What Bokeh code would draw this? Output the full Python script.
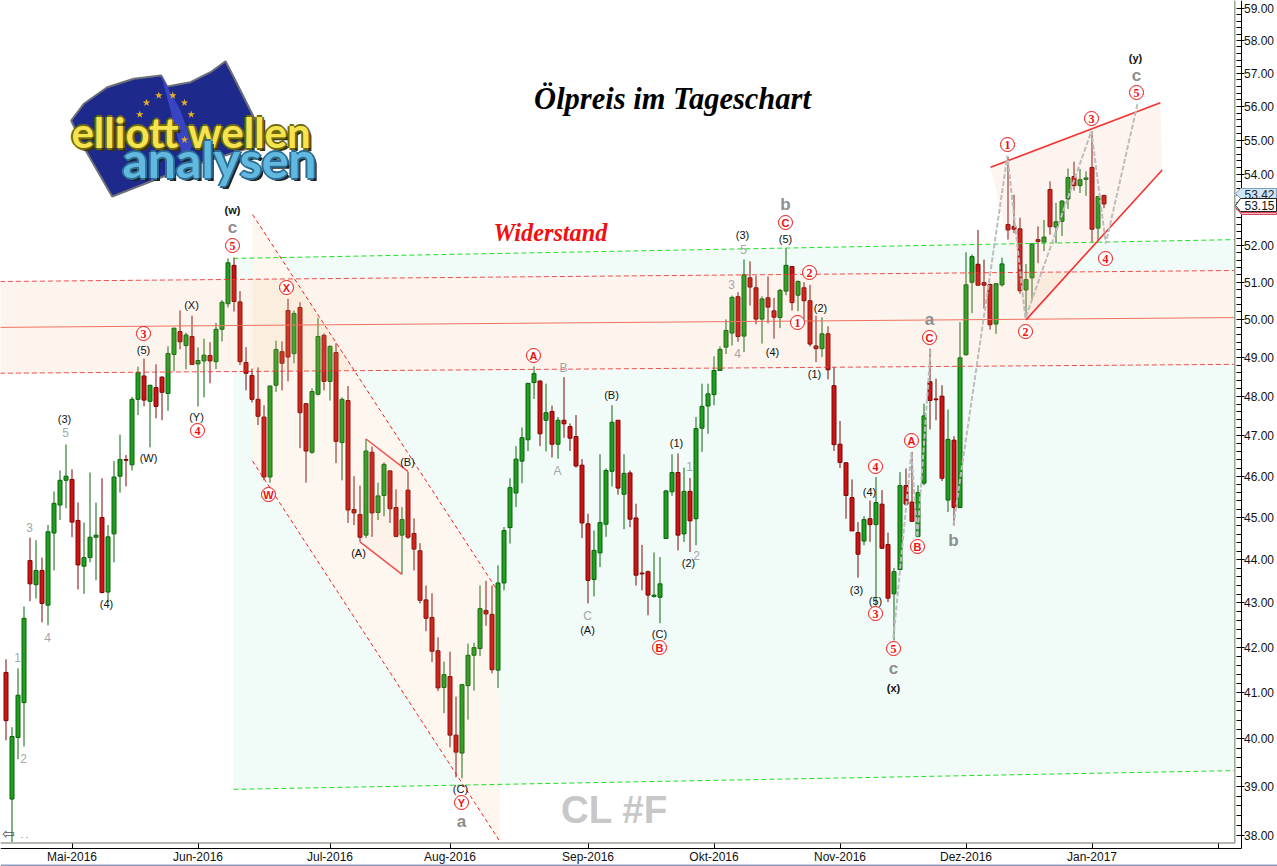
from math import exp
from bokeh.plotting import figure
from bokeh.embed import file_html
from bokeh.resources import INLINE
from bokeh.core.properties import value
from bokeh.models import Range1d, FixedTicker, PrintfTickFormatter, ColumnDataSource

# ---------- data ----------
directions = ("RGGGRGRGGG" "GRRGGGRGGG" "RGGRGRRGGR" "GRGGRGGGRR" "RRRRGGRRGR" "RGGRGRGRRR"
              "GRGGRRGRRR" "RRRGRRGGGG" "RRGGGGGGGR" "GRGRRRRRGG" "GGRGRRRRGG" "GGRGRGGGGG"
              "GGRGRRGRRG" "GRGRRRGRRR" "RRRGRGRRGG" "RRGGRRRGRG" "GGRRRGGRRR" "GGRGRGGGRG" "GRGR")
highs = [41.73,40.25,41.53,42.92,44.52,44.46,44.05,44.82,45.63,46.14,
46.78,46.17,45.36,44.88,46.09,45.36,45.95,44.82,46.37,47.03,
46.52,47.98,48.76,48.97,48.29,48.82,48.51,49.29,49.77,50.24,
49.65,50.10,49.26,49.49,49.40,49.91,50.52,51.65,51.68,50.76,
49.27,48.71,48.74,47.77,48.27,49.44,49.42,50.55,50.24,50.46,
47.82,48.20,50.04,49.63,49.32,49.37,47.97,48.26,46.00,45.77,
46.92,46.73,45.84,46.34,46.14,45.68,45.25,46.11,44.98,44.39,
43.40,43.22,42.22,41.68,41.90,40.91,41.19,42.08,42.10,43.40,
43.51,43.40,43.87,44.77,45.95,46.74,47.21,48.34,48.77,48.40,
48.32,47.76,47.47,48.49,47.31,47.52,46.42,45.09,44.69,46.54,
46.19,47.77,47.39,46.54,46.14,45.33,44.35,43.75,44.17,44.06,
45.66,46.54,46.56,46.21,45.96,47.47,48.32,48.32,49.03,49.29,
50.00,50.64,50.73,51.62,51.57,51.18,50.62,51.16,50.58,50.82,
51.94,51.43,51.05,51.00,50.93,50.10,50.06,49.82,48.75,47.37,
46.34,45.92,44.89,45.03,45.41,45.98,45.66,44.64,43.81,46.10,
46.19,46.60,45.78,47.81,49.23,48.45,48.28,47.66,46.99,49.93,
51.82,51.76,52.44,51.62,50.96,50.97,51.67,54.52,53.43,52.78,
51.50,52.07,52.54,52.72,53.81,53.20,53.28,54.18,54.38,54.17,
54.10,55.27,53.38,53.43]
body_tops = [41.44,40.05,40.94,42.65,43.98,43.75,43.75,44.66,45.34,45.90,
46.00,45.92,44.93,44.05,44.53,44.58,45.00,44.54,45.98,46.41,
46.41,47.92,48.61,48.52,48.28,48.22,48.49,49.10,49.77,49.68,
49.59,49.55,48.92,49.06,49.05,49.74,50.46,51.53,51.46,50.47,
48.87,48.53,47.92,47.47,48.26,49.21,49.15,50.24,50.16,50.32,
47.81,48.12,49.55,49.58,49.29,49.13,47.92,47.89,45.19,45.07,
46.62,46.59,45.52,46.29,46.13,45.24,44.95,45.66,44.62,44.21,
43.07,42.67,41.92,41.39,41.35,40.08,41.17,41.82,41.99,42.87,
42.83,42.74,43.46,44.69,45.72,46.42,46.95,48.33,48.58,48.39,
47.58,47.61,47.39,47.39,47.23,46.98,46.27,44.85,44.22,44.88,
46.14,47.34,47.39,46.07,46.08,44.99,43.69,43.72,43.18,43.44,
45.64,46.09,46.09,45.63,45.63,47.18,47.74,48.06,48.66,49.21,
49.71,50.59,50.61,51.20,51.12,50.85,50.55,50.58,50.23,50.78,
51.46,51.43,51.02,50.85,50.50,49.30,49.62,49.62,48.27,46.79,
46.33,45.48,44.64,44.95,44.97,45.36,45.32,44.36,43.72,45.77,
45.77,45.37,45.60,47.50,48.37,47.93,48.00,46.91,46.89,48.99,
50.93,51.70,51.49,50.99,50.94,50.96,51.50,52.59,52.54,52.47,
51.07,52.05,52.17,52.24,53.58,52.67,53.25,53.92,53.95,53.86,
53.91,54.21,53.38,53.41]
body_bottoms = [40.39,38.74,40.03,40.78,43.44,43.42,42.99,42.95,44.63,45.30,
45.90,44.89,43.88,43.85,44.05,44.53,43.24,43.25,44.61,46.00,
46.39,46.28,47.92,47.90,47.87,47.74,48.10,48.07,49.08,49.41,
49.31,48.82,48.83,48.91,48.91,48.89,49.74,50.42,50.48,48.89,
48.59,47.92,47.49,45.98,45.98,48.28,48.85,49.01,49.10,47.58,
46.62,46.59,48.05,48.38,48.38,46.86,46.83,45.18,45.11,44.53,
44.58,45.11,45.12,45.53,45.21,44.55,44.58,44.53,44.25,43.06,
42.65,41.91,41.10,41.11,40.08,39.72,39.70,41.15,41.82,41.97,
42.75,41.50,41.49,43.46,44.76,45.59,46.37,46.90,48.35,47.05,
47.39,46.79,46.79,47.30,46.94,46.25,44.87,43.52,43.54,44.16,
44.84,46.12,45.71,45.56,44.96,43.64,43.67,43.18,43.15,43.13,
44.50,45.62,44.58,44.61,44.92,44.97,47.19,47.75,48.04,48.66,
49.27,49.64,49.55,49.56,50.87,50.01,50.01,50.33,50.06,50.05,
50.76,50.45,50.65,50.50,49.35,49.23,49.23,48.68,46.78,46.34,
45.53,44.68,44.13,44.44,44.83,44.83,44.27,43.11,43.21,43.77,
45.32,44.91,44.55,45.83,47.89,47.91,45.95,45.42,45.24,45.24,
49.07,51.00,50.92,50.92,49.86,49.88,50.93,52.44,52.46,50.77,
50.79,51.12,52.12,52.10,52.53,52.52,52.68,53.31,53.69,53.69,
53.87,52.46,52.49,53.17]
lows = [39.97,37.86,39.57,39.84,43.04,43.10,42.56,42.49,43.75,44.94,
45.22,44.53,43.31,43.21,43.94,43.52,43.22,43.02,43.94,45.60,
45.75,46.14,47.52,47.74,46.71,47.44,47.39,47.63,48.64,49.21,
48.69,48.82,47.74,47.97,48.33,48.70,49.42,50.32,50.21,48.80,
48.15,47.84,47.27,45.90,45.84,48.11,48.15,48.38,48.85,46.69,
45.84,46.55,48.02,48.15,47.89,46.32,45.90,44.87,44.82,44.42,
44.51,44.54,44.94,45.03,44.87,44.53,43.66,44.49,43.75,42.99,
42.36,41.67,41.03,40.55,39.82,39.19,39.17,40.41,41.04,41.80,
42.48,41.42,41.10,43.29,44.38,45.25,45.83,46.62,47.93,46.74,
46.61,46.46,46.43,46.95,46.62,46.21,44.51,42.99,43.15,43.83,
44.54,45.75,45.55,44.72,44.77,43.40,43.29,42.72,43.12,42.54,
44.50,45.52,44.22,44.42,44.18,44.34,46.60,47.05,47.77,48.66,
49.09,49.31,49.41,49.14,50.37,49.87,49.36,49.90,49.49,49.77,
50.65,50.24,50.22,50.00,49.29,48.88,49.01,48.43,46.62,46.20,
44.97,44.68,43.58,44.34,44.42,42.94,44.25,43.02,42.15,43.77,
45.29,44.89,44.53,45.78,47.16,47.39,45.88,45.13,44.81,45.24,
49.05,50.17,50.91,50.29,49.73,49.62,50.88,52.17,52.35,50.69,
50.06,50.50,51.52,51.85,52.31,52.07,52.27,53.03,53.55,53.48,
53.40,52.10,52.15,53.05]
bars = list(range(len(highs)))

price_ticks = list(range(38, 60))
month_bars = [11, 32, 54, 74, 97, 118, 139, 160, 181, 202]
month_labels = ["Mai-2016", "Jun-2016", "Jul-2016", "Aug-2016", "Sep-2016", "Okt-2016", "Nov-2016", "Dez-2016", "Jan-2017", ""]

band_x = [-1, 204.8]
band_top = [51.02, 51.32]
band_mid = [49.79, 50.05]
band_bottom = [48.59, 48.82]
green_x = [37.9, 204.8]
green_top = [51.65, 52.17]
green_bottom = [38.94, 39.33]
green_at_band_top = [51.08, 51.32]
green_at_band_bottom = [48.63, 48.82]
chan_upper_x = [41.1, 81.9]
chan_upper_y = [52.87, 43.29]
chan_lower_x = [41.1, 82.3]
chan_lower_y = [46.37, 37.88]
flag_upper_x = [60.0, 67.0]
flag_upper_y = [46.92, 46.12]
flag_lower_x = [59.0, 66.0]
flag_lower_y = [44.42, 43.66]
wedge_upper_x = [164.1, 192.4]
wedge_upper_y = [54.22, 56.11]
wedge_lower_x = [170.0, 192.7]
wedge_lower_y = [49.99, 54.14]
zig1_x = [147.9, 150.9, 151.9, 154.1]
zig1_y = [42.20, 46.59, 44.53, 49.21]
zig2_x = [157.9, 166.9, 169.9, 180.9, 183.3, 188.6]
zig2_y = [44.81, 54.55, 50.03, 55.27, 52.06, 56.09]
last_quotes = ["53.42", "53.15"]

# ---------- layout ----------
W, H = 1277, 866
AXIS_X, AXIS_Y = 1240.5, 847.5
def bx(px): return (px - 5.5) / 6.0
def py(y): return 58.0 * exp(-(y - 40.0) / 1879.6)

p = figure(width=W, height=H, output_backend="svg", toolbar_location=None,
           y_axis_type="log", y_axis_location="right",
           x_range=Range1d(bx(0), bx(W)), y_range=Range1d(py(H), py(0)),
           min_border=0, background_fill_color="white", border_fill_color="white")
p.outline_line_color = None
p.grid.visible = False

ax = p.xaxis[0]
ax.fixed_location = py(AXIS_Y)
ax.bounds = (bx(0), bx(AXIS_X))
ax.ticker = FixedTicker(ticks=month_bars)
ax.major_label_overrides = dict(zip(month_bars, month_labels))
ax.major_tick_in, ax.major_tick_out = 5, 0
ax.minor_tick_line_color = None
ax.axis_line_color = "black"
ax.major_tick_line_color = "black"
ax.major_label_text_font = "Liberation Sans"
ax.major_label_text_font_size = "12px"
ax.major_label_text_color = "#111111"
ax.major_label_standoff = 2

ay = p.yaxis[0]
ay.fixed_location = bx(AXIS_X)
ay.bounds = (py(AXIS_Y), py(0))
minor = [t + f / 10 for t in price_ticks[:-1] for f in (2, 4, 6, 8)]
ay.ticker = FixedTicker(ticks=price_ticks, minor_ticks=minor)
ay.formatter = PrintfTickFormatter(format="%.2f")
ay.major_tick_in, ay.major_tick_out = 5, 3
ay.minor_tick_in, ay.minor_tick_out = 5, 0
ay.axis_line_color = ay.major_tick_line_color = ay.minor_tick_line_color = "black"
ay.major_label_text_font = "Liberation Sans"
ay.major_label_text_font_size = "12px"
ay.major_label_text_color = "#111111"
ay.major_label_standoff = 0

# ---------- zones under the candles ----------
GREEN_BG = "#F1FCF9"
p.patch(green_x + green_x[::-1], green_top + green_at_band_top[::-1], fill_color=GREEN_BG, line_color=None)
p.patch(green_x + green_x[::-1], green_at_band_bottom + green_bottom[::-1], fill_color=GREEN_BG, line_color=None)
p.patch(chan_upper_x + chan_lower_x[::-1], chan_upper_y + chan_lower_y[::-1], fill_color="white", line_color=None)
p.patch(wedge_upper_x + wedge_lower_x[::-1], wedge_upper_y + wedge_lower_y[::-1], fill_color="white", line_color=None)

# ---------- candles ----------
def idx(d): return [i for i, c in enumerate(directions) if c == d]
for d, fill, line in (("G", "#1F9E1F", "#0A640A"), ("R", "#CC1414", "#7E0606")):
    ii = idx(d)
    src = ColumnDataSource(dict(x=[bars[i] for i in ii], h=[highs[i] for i in ii], l=[lows[i] for i in ii],
                                t=[body_tops[i] for i in ii], b=[body_bottoms[i] for i in ii]))
    p.segment("x", "h", "x", "l", source=src, line_color=line, line_width=1)
    p.vbar(x="x", width=4 / 6, top="t", bottom="b", source=src, fill_color=fill, line_color=line, line_width=1)

# ---------- tints over the candles ----------
p.patch(band_x + band_x[::-1], band_top + band_bottom[::-1], fill_color="#F0AA6E", fill_alpha=0.12, line_color=None)
p.patch(chan_upper_x + chan_lower_x[::-1], chan_upper_y + chan_lower_y[::-1], fill_color="#F0B870", fill_alpha=0.11, line_color=None)
p.patch(flag_upper_x + flag_lower_x[::-1], flag_upper_y + flag_lower_y[::-1], fill_color="#F0A090", fill_alpha=0.05, line_color=None)
p.patch(wedge_upper_x + wedge_lower_x[::-1], wedge_upper_y + wedge_lower_y[::-1], fill_color="#F0A878", fill_alpha=0.12, line_color=None)

# ---------- lines ----------
p.line(green_x, green_top, line_color="#22E022", line_dash="5 3", line_width=1)
p.line(green_x, green_bottom, line_color="#22E022", line_dash="5 3", line_width=1)
p.line(band_x, band_top, line_color="#F03030", line_dash="5 3", line_width=1, line_alpha=0.85)
p.line(band_x, band_bottom, line_color="#F03030", line_dash="5 3", line_width=1, line_alpha=0.85)
p.line(band_x, band_mid, line_color="#F07060", line_width=1)
p.line(chan_upper_x, chan_upper_y, line_color="#F02020", line_dash="4 3", line_width=1)
p.line(chan_lower_x, chan_lower_y, line_color="#F02020", line_dash="4 3", line_width=1)
for xs, ys in ((flag_upper_x, flag_upper_y), (flag_lower_x, flag_lower_y)):
    p.line(xs, ys, line_color="#F05050", line_width=1.5)
for xs, ys in ((wedge_upper_x, wedge_upper_y), (wedge_lower_x, wedge_lower_y)):
    p.line(xs, ys, line_color="#F83030", line_width=1.6)
for xs, ys in ((zig1_x, zig1_y), (zig2_x, zig2_y)):
    p.line(xs, ys, line_color="#BDBDBD", line_dash="5 2", line_width=2)

# inner frame of the chart window
p.line([bx(0), bx(1234.3), bx(1234.3)], [py(842.4), py(842.4), py(0)], line_color="#9AA294", line_width=1.5)
# rule at the foot of the page
p.quad(left=[bx(0)], right=[bx(W)], top=[py(864)], bottom=[py(865.5)], fill_color="#8E9AB8", line_color=None)

# ---------- texts ----------
def texts(items, color, font, size, style="normal", level="glyph"):
    src = ColumnDataSource(dict(x=[bx(i[1]) for i in items], y=[py(i[2]) for i in items], t=[i[0] for i in items]))
    p.text("x", "y", text="t", source=src, text_color=color, text_font=value(font), text_font_size=value(size),
           text_font_style=style, text_align="center", text_baseline="middle", level=level)

black = [("(3)",64,418),("(5)",143,349),("(X)",191,304),("(W)",148,457),("(Y)",196,416),("(4)",106,603),
         ("(A)",358,552),("(B)",407,461),("(C)",460,788),("(B)",611,394),("(A)",587,629),("(C)",659,633),
         ("(1)",676,442),("(2)",688,562),("(3)",742,234),("(5)",785,238),("(4)",772,351),("(2)",820,307),
         ("(1)",814,373),("(3)",856,589),("(4)",869,491),("(5)",875,600)]
texts(black, "#111111", "Liberation Sans", "11px")
texts([("(w)",232,209),("(x)",893,687),("(y)",1135,57)], "#111111", "Liberation Sans", "11px", "bold")
grey = [("5",65,432),("3",29,527),("1",17,657),("2",23,758),("4",47,637),("A",557,470),("B",563,367),("C",587,615),
        ("1",689,466),("2",696,555),("3",731,284),("4",737,353),("5",743,249)]
texts(grey, "#A6A6A6", "Liberation Sans", "12px")
texts([("c",232,227),("a",461,821),("a",929,319),("b",953,540),("c",893,668),("b",785,204),("c",1136,75)],
      "#8E8E8E", "Liberation Sans", "17px", "bold")

circ_digits = [("3",143,333),("4",197,430),("5",232,245),("2",809,272),("1",797,322),("4",875,466),("3",875,613),
               ("5",893,648),("1",1007,144),("2",1025,331),("3",1091,118),("4",1105,258),("5",1136,92)]
circ_letters = [("X",286,287),("W",268,494),("Y",461,802),("A",533,355),("B",659,647),("C",785,222),
                ("A",911,440),("B",917,546),("C",929,337)]
all_c = circ_digits + circ_letters
p.scatter([bx(c[1]) for c in all_c], [py(c[2]) for c in all_c], marker="circle", size=14,
          fill_color="white", line_color="#F01010", line_width=1)
texts(circ_digits, "#F01010", "Liberation Serif", "12px", "bold")
texts(circ_letters, "#F01010", "Liberation Sans", "11px", "bold")

texts([("Ölpreis im Tageschart",672,98)], "black", "Liberation Serif", "30.5px", "bold italic")
texts([("Widerstand",550,232)], "#F01010", "Liberation Serif", "24.3px", "bold italic")
texts([("CL #F",614,809)], "#C8C8C8", "Liberation Sans", "38.5px", "bold")
texts([("⇦",8,833)], "#555555", "DejaVu Sans", "15px")
texts([(". .",24,834)], "#666666", "Liberation Sans", "9px")

# ---------- logo ----------
flag_px = [(70.7,120),(83.3,103.3),(106.7,86.7),(133.3,78.3),(160.7,75),(166.7,86),(190,81.7),(210,71.7),(225,60.7),
           (233.3,76.7),(253.3,116.7),(263,143),(186.7,166.7),(111.7,196),(83.3,146.7)]
fold_px = [(160.7,75),(166.7,86),(180,110),(192,145),(183,160),(170,110)]
p.patch([bx(a) for a, b in flag_px], [py(b) for a, b in flag_px], fill_color="#1D2A8C", line_color="#6E7078", line_width=2)
p.patch([bx(a) for a, b in fold_px], [py(b) for a, b in fold_px], fill_color="#3844C4", line_color=None)
stars = [(146,102.3),(158.3,95),(172.3,95),(184,102.3),(190.7,114),(139.3,114),(184,139.3),(189.3,127)]
p.scatter([bx(a) for a, b in stars], [py(b) for a, b in stars], marker="star", size=8, fill_color="#E8B020", line_color=None)

def logo(txt, cx, cy, size, fill, edge, shadow, d=2):
    lab = lambda col, dx, dy: texts([(txt, cx + dx, cy + dy)], col, "Lato", size, "bold")
    lab(shadow, d + 1, d + 1)
    for dx, dy in ((-d, 0), (d, 0), (0, -d), (0, d)):
        lab(edge, dx, dy)
    lab(fill, 0, 0)

logo("elliott wellen", 191, 131, "42px", "#F6E44E", "#6F6A12", "#333300")
logo("analysen", 219, 158, "50px", "#62B8DE", "#2A6E96", "#222222")

# ---------- last-quote tags on the price scale ----------
def tag_shape(points, fill, line):
    p.patch([bx(a) for a, b in points], [py(b) for a, b in points], fill_color=fill, line_color=line, line_width=1, level="overlay")
tag_shape([(1235,193),(1240,188),(1276,188),(1276,198),(1240,198)], "#CFE6F8", "#7FA0B8")
texts([(last_quotes[0],1259,194)], "#222222", "Liberation Sans", "12px", level="overlay")
tag_shape([(1235,207),(1240,212),(1276,212),(1276,214),(1241,214)], "#F6B4BC", "#D84860")
tag_shape([(1235,205),(1240,198),(1276,198),(1276,211),(1240,211)], "white", "#222222")
texts([(last_quotes[1],1259,205)], "#111111", "Liberation Sans", "12px", level="overlay")

open("out.html", "w").write(file_html(p, INLINE))
